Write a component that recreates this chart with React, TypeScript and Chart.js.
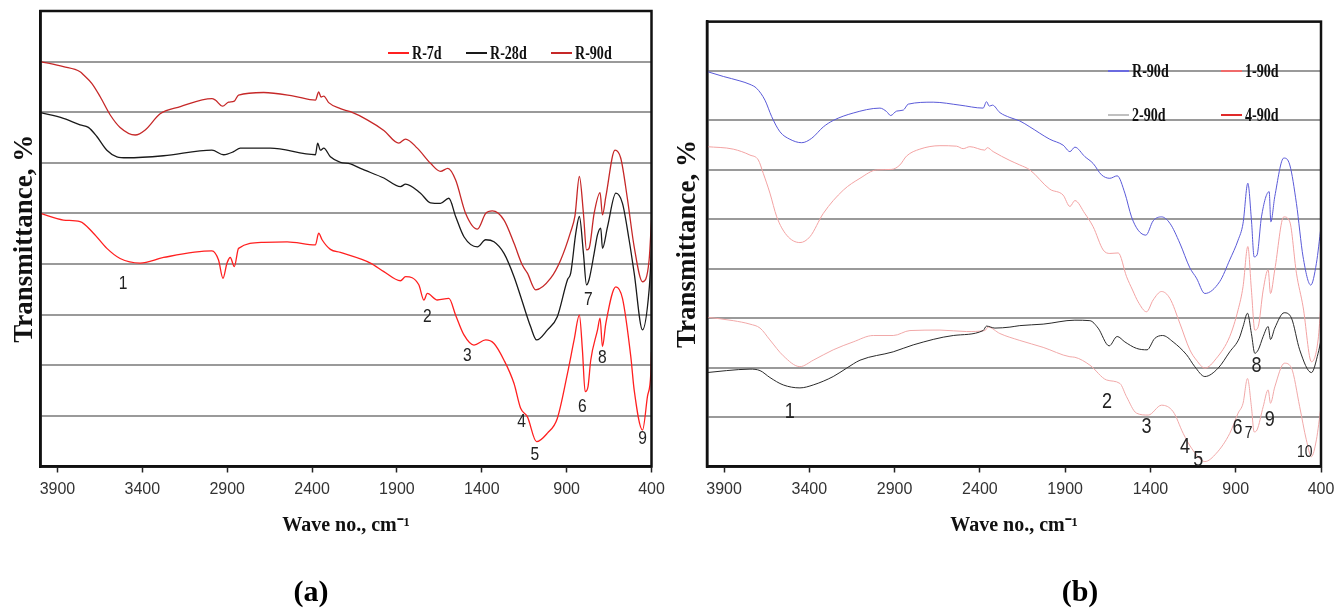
import React, { useEffect, useRef } from "react";
import { Chart, registerables } from "chart.js";
Chart.register(...registerables);

type Pt = [number, number];
type Peak = [string, number, number];

// ---- shared axis data ----
const X_TICKS = [3900, 3400, 2900, 2400, 1900, 1400, 900, 400];
const X_MIN = 400;
const X_MAX = 4000;
const Y_MIN = 0;
const Y_MAX = 90;
const Y_STEP = 10;

// ---- panel (a) ----
const A_NAMES = ["R-7d", "R-28d", "R-90d"];
const A_R7D: Pt[] = [
  [4000, 50.0], [3865, 48.7], [3767, 48.4], [3688, 46.1], [3609, 43.1], [3531, 41.1], [3413, 40.2],
  [3275, 41.3], [2990, 42.6], [2951, 40.8], [2925, 37.2], [2901, 40.2], [2882, 41.3], [2858, 39.5],
  [2833, 43.1], [2685, 44.3], [2547, 44.4], [2380, 43.8], [2361, 46.1], [2341, 44.8], [2292, 42.9],
  [2233, 42.3], [2056, 40.2], [1977, 38.5], [1879, 36.7], [1849, 37.5], [1771, 35.9], [1741, 32.9],
  [1721, 34.2], [1662, 32.9], [1594, 33.2], [1554, 29.9], [1505, 26.0], [1446, 24.0], [1377, 25.0],
  [1328, 24.3], [1269, 21.0], [1210, 16.4], [1171, 11.5], [1131, 9.8], [1077, 4.9], [1013, 6.6],
  [955, 9.5], [895, 18.4], [856, 25.0], [825, 29.9], [807, 23.0], [791, 14.8], [774, 15.8],
  [758, 21.0], [718, 27.0], [703, 29.3], [689, 23.7], [669, 28.3], [610, 35.5], [571, 33.2],
  [522, 21.7], [502, 15.1], [453, 7.2], [424, 13.8], [404, 18.4], [400, 22.6],
];
const A_R28D: Pt[] = [
  [4000, 69.9], [3865, 68.8], [3767, 67.5], [3718, 67.0], [3668, 65.2], [3609, 62.5], [3550, 61.2],
  [3491, 61.0], [3275, 61.4], [2990, 62.5], [2921, 61.6], [2862, 62.2], [2823, 62.9], [2646, 62.9],
  [2380, 61.6], [2367, 63.9], [2351, 62.5], [2331, 62.9], [2292, 61.2], [2233, 60.1], [2174, 59.8],
  [2115, 58.9], [1977, 57.0], [1879, 55.3], [1849, 55.8], [1761, 54.0], [1702, 52.1], [1643, 52.0],
  [1594, 53.0], [1554, 49.4], [1505, 45.4], [1426, 43.4], [1377, 44.8], [1328, 44.4], [1269, 42.1],
  [1210, 37.5], [1171, 33.6], [1112, 27.6], [1077, 25.0], [1013, 27.0], [955, 29.6], [895, 36.9],
  [876, 38.2], [846, 46.1], [825, 49.4], [801, 42.1], [783, 35.9], [768, 36.9], [738, 42.1],
  [718, 45.8], [699, 47.1], [689, 43.1], [659, 47.4], [610, 54.0], [571, 52.0], [532, 44.8],
  [502, 38.2], [453, 27.0], [414, 34.9], [400, 42.8],
];
const A_R90D: Pt[] = [
  [4000, 80.0], [3865, 79.0], [3767, 78.0], [3747, 77.4], [3698, 75.7], [3649, 73.1], [3590, 69.5],
  [3531, 67.0], [3442, 65.5], [3383, 66.5], [3295, 69.7], [3176, 71.1], [2990, 72.7], [2970, 72.4],
  [2927, 71.2], [2892, 72.0], [2858, 72.2], [2833, 73.4], [2685, 73.9], [2508, 73.2], [2380, 72.4],
  [2361, 74.0], [2347, 73.0], [2331, 73.2], [2302, 71.9], [2233, 70.7], [2174, 70.1], [2075, 68.5],
  [1977, 66.4], [1889, 63.9], [1849, 64.7], [1780, 62.9], [1702, 59.9], [1643, 58.3], [1600, 58.9],
  [1554, 56.6], [1495, 50.0], [1426, 46.9], [1377, 50.0], [1338, 50.5], [1269, 48.7], [1210, 44.1],
  [1161, 39.8], [1131, 38.2], [1082, 34.9], [994, 37.2], [935, 40.8], [876, 46.4], [851, 49.5],
  [825, 57.3], [801, 50.0], [783, 42.8], [768, 43.1], [738, 50.0], [703, 54.1], [689, 49.7],
  [669, 53.3], [615, 62.5], [581, 60.9], [541, 52.7], [502, 43.4], [453, 36.5], [414, 40.8],
  [400, 48.7],
];
const A_PEAKS: Peak[] = [
  ["1", 3513, 36.1], ["2", 1721, 29.5], ["3", 1485, 21.8], ["4", 1165, 8.9], ["5", 1087, 2.3],
  ["6", 807, 11.8], ["7", 772, 33.0], ["8", 689, 21.4], ["9", 453, 5.4],
];

// ---- panel (b) ----
const B_NAMES = ["R-90d", "1-90d", "2-90d", "4-90d"];
const B_R90D: Pt[] = [
  [4000, 79.9], [3904, 78.9], [3807, 78.0], [3748, 77.3], [3709, 76.5], [3660, 74.1], [3621, 70.8],
  [3572, 67.7], [3514, 66.2], [3445, 65.5], [3386, 66.4], [3318, 68.7], [3260, 70.0], [3143, 71.5],
  [2986, 72.5], [2947, 71.8], [2923, 71.0], [2888, 71.9], [2849, 72.1], [2820, 73.3], [2674, 73.7],
  [2517, 73.1], [2381, 72.5], [2361, 73.8], [2345, 72.9], [2326, 73.1], [2283, 71.6], [2224, 70.6],
  [2166, 69.9], [2107, 68.7], [1990, 66.2], [1912, 65.0], [1872, 63.7], [1843, 64.6], [1785, 62.7],
  [1736, 61.3], [1687, 59.0], [1638, 58.3], [1595, 58.8], [1550, 55.3], [1511, 50.5], [1472, 47.8],
  [1427, 46.8], [1384, 49.7], [1335, 50.5], [1286, 49.2], [1228, 45.2], [1169, 40.2], [1130, 38.1],
  [1081, 35.0], [994, 37.4], [935, 41.8], [886, 45.8], [857, 49.2], [829, 57.3], [808, 49.9],
  [792, 42.4], [775, 42.8], [749, 50.5], [704, 55.6], [694, 49.5], [671, 54.6], [618, 62.4],
  [583, 61.0], [544, 53.2], [505, 42.4], [460, 36.7], [427, 41.1], [400, 48.5],
];
const B_190D: Pt[] = [
  [4000, 64.7], [3846, 64.2], [3748, 63.0], [3699, 62.0], [3670, 59.3], [3631, 55.3], [3591, 50.5],
  [3533, 46.8], [3455, 45.3], [3396, 46.5], [3318, 51.2], [3201, 55.9], [3103, 58.3], [3005, 60.0],
  [2917, 60.1], [2869, 61.0], [2830, 62.8], [2752, 64.2], [2634, 64.9], [2537, 64.8], [2498, 64.3],
  [2459, 64.7], [2371, 64.0], [2357, 64.5], [2322, 63.7], [2224, 61.9], [2166, 61.0], [2107, 60.0],
  [1990, 56.1], [1912, 54.9], [1872, 52.6], [1843, 53.8], [1785, 51.2], [1736, 48.5], [1677, 43.8],
  [1638, 43.1], [1589, 43.2], [1540, 38.4], [1505, 35.7], [1472, 33.3], [1423, 31.3], [1384, 33.7],
  [1335, 35.4], [1286, 34.0], [1228, 29.0], [1169, 23.6], [1130, 21.5], [1081, 19.9], [1013, 21.9],
  [935, 26.3], [886, 31.7], [857, 36.4], [829, 44.5], [808, 35.7], [788, 27.6], [768, 28.3],
  [739, 35.7], [710, 39.8], [696, 35.0], [671, 39.8], [618, 50.5], [583, 49.5], [544, 39.1],
  [505, 32.3], [456, 21.2], [417, 25.6], [400, 33.0],
];
const B_290D: Pt[] = [
  [4000, 19.0], [3885, 19.4], [3748, 19.7], [3689, 19.4], [3631, 18.0], [3553, 16.5], [3455, 15.9],
  [3377, 16.5], [3260, 18.2], [3181, 19.9], [3103, 21.5], [2908, 23.2], [2791, 24.6], [2556, 26.5],
  [2381, 27.5], [2361, 28.4], [2312, 28.0], [2224, 28.2], [2166, 28.5], [2029, 28.8], [1843, 29.6],
  [1755, 29.5], [1707, 28.0], [1642, 24.4], [1595, 26.3], [1550, 25.2], [1482, 23.9], [1420, 23.6],
  [1375, 25.9], [1329, 26.5], [1267, 25.2], [1188, 22.6], [1140, 20.2], [1081, 18.2], [1003, 19.9],
  [935, 23.2], [880, 25.9], [857, 28.3], [831, 31.0], [808, 26.9], [788, 22.9], [768, 23.6],
  [739, 26.3], [710, 28.3], [696, 25.7], [671, 28.0], [616, 31.1], [573, 30.0], [525, 23.6],
  [456, 19.0], [417, 22.9], [400, 25.6],
];
const B_490D: Pt[] = [
  [4000, 30.2], [3846, 29.5], [3748, 28.8], [3689, 28.0], [3631, 25.6], [3553, 22.4], [3455, 20.2],
  [3377, 21.5], [3260, 23.6], [3143, 25.2], [3025, 26.5], [2908, 26.5], [2810, 27.5], [2634, 27.6],
  [2478, 27.3], [2371, 27.5], [2351, 28.2], [2283, 26.9], [2166, 25.5], [2029, 24.1], [1872, 22.2],
  [1843, 22.1], [1755, 20.5], [1657, 17.5], [1579, 16.8], [1540, 14.1], [1482, 10.8], [1413, 10.4],
  [1335, 12.4], [1267, 11.1], [1208, 6.7], [1159, 3.7], [1081, 1.0], [1013, 2.7], [935, 6.7],
  [886, 10.8], [857, 12.8], [831, 17.8], [808, 12.1], [792, 7.0], [775, 7.4], [739, 12.1],
  [710, 15.5], [696, 12.8], [671, 16.1], [614, 20.9], [573, 19.9], [525, 12.1], [486, 5.4],
  [456, 2.0], [427, 5.4], [400, 12.1],
];
const B_PEAKS: Peak[] = [
  ["1", 3514, 11.1], ["2", 1654, 13.1], ["3", 1423, 8.1], ["4", 1198, 4.0], ["5", 1120, 1.3],
  ["6", 890, 7.9], ["7", 825, 6.7], ["8", 778, 20.3], ["9", 700, 9.5], ["10", 495, 2.8],
];

const X_TITLE = "Wave no., cm\u207B\u00B9";
const Y_TITLE = "Transmittance, %";

// ---- fonts ----
const SANS = "'Liberation Sans', Arial, sans-serif";
const SERIF = "'Liberation Serif', 'Times New Roman', serif";

interface SeriesDef { label: string; data: Pt[]; color: string; width: number }
interface LegendDef { text: string; color: string; x: number; y: number }
interface PanelProps {
  series: SeriesDef[];
  legend: LegendDef[];
  peaks: Peak[];
  peakSize: number;
  smallPeaks: string[];
  tag: string;
  tagX: number;
  yAxisWidth: number;
  padRight: number;
  padTop: number;
  yTitlePad: number;
}

function Panel(p: PanelProps) {
  const ref = useRef<HTMLCanvasElement | null>(null);
  useEffect(() => {
    if (!ref.current) return;
    const overlay = {
      id: "overlay",
      afterDatasetsDraw(chart: any) {
        const { ctx, chartArea: a, scales } = chart;
        ctx.save();
        // frame
        ctx.strokeStyle = "#111";
        ctx.lineWidth = 2.5;
        ctx.strokeRect(a.left, a.top, a.right - a.left, a.bottom - a.top);
        // peak numbers
        ctx.fillStyle = "#222";
        ctx.textAlign = "center";
        ctx.textBaseline = "middle";
        for (const [t, w, v] of p.peaks) {
          const size = p.smallPeaks.includes(t) ? p.peakSize - 5 : p.peakSize;
          ctx.save();
          ctx.translate(scales.x.getPixelForValue(w), scales.y.getPixelForValue(v));
          ctx.scale(0.82, 1);
          ctx.font = `${size}px ${SANS}`;
          ctx.fillText(t, 0, 0);
          ctx.restore();
        }
        // legend
        for (const it of p.legend) {
          ctx.strokeStyle = it.color;
          ctx.lineWidth = 2;
          ctx.beginPath();
          ctx.moveTo(it.x, it.y);
          ctx.lineTo(it.x + 21, it.y);
          ctx.stroke();
          ctx.save();
          ctx.translate(it.x + 24, it.y + 1);
          ctx.scale(0.74, 1);
          ctx.font = `bold 19px ${SERIF}`;
          ctx.textAlign = "left";
          ctx.textBaseline = "middle";
          ctx.fillStyle = "#111";
          ctx.fillText(it.text, 0, 0);
          ctx.restore();
        }
        // panel tag
        ctx.font = `bold 30px ${SERIF}`;
        ctx.textAlign = "center";
        ctx.textBaseline = "middle";
        ctx.fillStyle = "#000";
        ctx.fillText(p.tag, p.tagX, 593);
        ctx.restore();
      },
    };
    const chart = new Chart(ref.current, {
      type: "line",
      data: {
        datasets: p.series.map((s) => ({
          label: s.label,
          data: s.data.map(([x, y]) => ({ x, y })),
          borderColor: s.color,
          borderWidth: s.width,
          pointRadius: 0,
          fill: false,
          cubicInterpolationMode: "monotone" as const,
        })),
      },
      options: {
        animation: false,
        responsive: false,
        maintainAspectRatio: false,
        layout: { padding: { left: 0, right: p.padRight, top: p.padTop, bottom: 0 } },
        plugins: { legend: { display: false }, tooltip: { enabled: false } },
        scales: {
          x: {
            type: "linear",
            reverse: true,
            min: X_MIN,
            max: X_MAX,
            afterBuildTicks: (s: any) => {
              s.ticks = X_TICKS.map((v) => ({ value: v }));
            },
            afterFit: (s: any) => {
              s.height = 143.5;
            },
            grid: { drawOnChartArea: false, drawTicks: true, tickLength: 6, tickColor: "#222", tickWidth: 1.5 },
            border: { display: true, color: "#111", width: 2.5 },
            ticks: {
              autoSkip: false,
              maxRotation: 0,
              padding: 7,
              color: "#333",
              font: { family: SANS, size: 16 },
              callback: (v: any) => String(v),
            },
            title: {
              display: true,
              text: X_TITLE,
              color: "#111",
              font: { family: SERIF, size: 20, weight: "bold" },
              padding: { top: 0, bottom: 72 },
            },
          },
          y: {
            min: Y_MIN,
            max: Y_MAX,
            afterFit: (s: any) => {
              s.width = p.yAxisWidth;
            },
            ticks: { display: false, stepSize: Y_STEP },
            grid: { color: "#9a9a9a", lineWidth: 2, drawTicks: false },
            border: { display: true, color: "#111", width: 2.5 },
            title: {
              display: true,
              text: Y_TITLE,
              color: "#111",
              font: { family: SERIF, size: 27, weight: "bold" },
              padding: { top: p.yTitlePad, bottom: 0 },
            },
          },
        },
      },
      plugins: [overlay],
    } as any);
    return () => chart.destroy();
  }, []);
  return <canvas ref={ref} width={672} height={610} style={{ display: "block", width: 672, height: 610 }} />;
}

export default function App() {
  const seriesA: SeriesDef[] = [
    { label: A_NAMES[0], data: A_R7D, color: "#ff2020", width: 1.3 },
    { label: A_NAMES[1], data: A_R28D, color: "#1a1a1a", width: 1.3 },
    { label: A_NAMES[2], data: A_R90D, color: "#c62828", width: 1.3 },
  ];
  const legendA: LegendDef[] = [
    { text: A_NAMES[0], color: "#ff2020", x: 388, y: 53 },
    { text: A_NAMES[1], color: "#1a1a1a", x: 466, y: 53 },
    { text: A_NAMES[2], color: "#c62828", x: 551, y: 53 },
  ];
  const seriesB: SeriesDef[] = [
    { label: B_NAMES[0], data: B_R90D, color: "#5a5ad8", width: 1 },
    { label: B_NAMES[1], data: B_190D, color: "#f3a3a3", width: 1 },
    { label: B_NAMES[2], data: B_290D, color: "#2a2a2a", width: 1 },
    { label: B_NAMES[3], data: B_490D, color: "#f1a9a9", width: 1 },
  ];
  const legendB: LegendDef[] = [
    { text: B_NAMES[0], color: "#6a6ae0", x: 436, y: 71 },
    { text: B_NAMES[1], color: "#f06a6a", x: 549, y: 71 },
    { text: B_NAMES[2], color: "#c0c0c0", x: 436, y: 115 },
    { text: B_NAMES[3], color: "#e02a2a", x: 549, y: 115 },
  ];
  return (
    <div style={{ position: "absolute", left: 0, top: 0, width: 1344, height: 610, display: "flex", background: "#fff" }}>
      <Panel
        series={seriesA}
        legend={legendA}
        peaks={A_PEAKS}
        peakSize={19}
        smallPeaks={[]}
        tag="(a)"
        tagX={311}
        yAxisWidth={40.5}
        padRight={20.5}
        padTop={11}
        yTitlePad={9}
      />
      <Panel
        series={seriesB}
        legend={legendB}
        peaks={B_PEAKS}
        peakSize={22}
        smallPeaks={["7", "10"]}
        tag="(b)"
        tagX={408}
        yAxisWidth={35}
        padRight={23}
        padTop={21.6}
        yTitlePad={0}
      />
    </div>
  );
}
